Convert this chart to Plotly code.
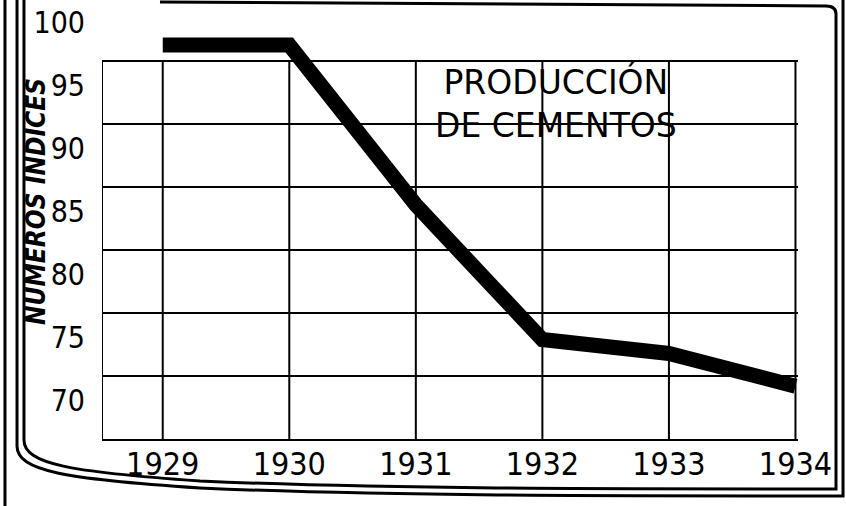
import plotly.graph_objects as go

# ---- data ----
years = [1929, 1930, 1931, 1932, 1933, 1934]
index_values = [101.3, 101.3, 88.6, 77.9, 76.8, 74.2]
y_ticks = [70, 75, 80, 85, 90, 95, 100]
y_tick_labels = ["70", "75", "80", "85", "90", "95", "100"]
x_tick_labels = ["1929", "1930", "1931", "1932", "1933", "1934"]
title_text = "PRODUCCIÓN<br>DE CEMENTOS"
y_title = "NUMEROS INDICES"

W, H = 846, 506
L, R, T, B = 102, 48, 30, 67
PW, PH = W - L - R, H - T - B
X_RANGE = [1928.52, 1934.02]
Y_RANGE = [70, 102.5]

def px(xp):
    return (xp - L) / PW

def py(yp):
    return (H - B - yp) / PH

NARROW = "DejaVu Sans Condensed, DejaVu Sans, sans-serif"

fig = go.Figure()
fig.add_trace(go.Scatter(
    x=years, y=index_values, mode="lines",
    line=dict(color="black", width=15),
    hoverinfo="skip", showlegend=False,
))

shapes = []
# vertical grid lines built from the year list, limited to the tick span
for yr in [X_RANGE[0]] + years:
    shapes.append(dict(type="line", xref="x", yref="y",
                       x0=yr, x1=yr, y0=min(y_ticks), y1=max(y_ticks),
                       line=dict(color="black", width=2), layer="above"))

def path(points):
    s = "M {:.4f},{:.4f}".format(px(points[0][0]), py(points[0][1]))
    for seg in points[1:]:
        if len(seg) == 2:
            s += " L {:.4f},{:.4f}".format(px(seg[0]), py(seg[1]))
        else:
            s += " C " + " ".join("{:.4f},{:.4f}".format(px(seg[i]), py(seg[i + 1]))
                                  for i in range(0, 6, 2))
    return s

frame_style = dict(type="path", xref="paper", yref="paper",
                   line=dict(color="black", width=3), layer="above")
# outer straight left edge
shapes.append(dict(frame_style, path=path([(5, 0), (5, 506)])))
# inner double frame with curved bottom
shapes.append(dict(frame_style, path=path([
    (24, 0), (24, 440),
    (24, 464, 70, 472, 200, 481),
    (380, 489, 600, 489, 836, 489),
    (836, 14),
    (836, 8, 832, 6, 826, 6),
    (160, 2)])))
shapes.append(dict(frame_style, path=path([
    (17, 0), (17, 446),
    (17, 471, 64, 479, 200, 488),
    (380, 496, 600, 496, 843, 496),
    (843, 0)])))

fig.update_layout(
    width=W, height=H,
    margin=dict(l=L, r=R, t=T, b=B, autoexpand=False),
    paper_bgcolor="white", plot_bgcolor="white",
    shapes=shapes,
    xaxis=dict(range=X_RANGE, tickvals=years, ticktext=x_tick_labels,
               showgrid=False, zeroline=False, showline=True,
               linecolor="black", linewidth=2, ticks="", automargin=False,
               tickfont=dict(family=NARROW, size=32, color="black"),
               ticklabelstandoff=-4),
    yaxis=dict(range=Y_RANGE, tickvals=y_ticks, ticktext=y_tick_labels,
               showgrid=True, gridcolor="black", gridwidth=2, automargin=False,
               zeroline=False, showline=False, ticks="",
               tickfont=dict(family=NARROW, size=30, color="black"),
               ticklabelshift=-39, ticklabelstandoff=16),
    annotations=[
        dict(text=title_text, xref="paper", yref="paper",
             x=px(556), y=py(103), xanchor="center", yanchor="middle",
             showarrow=False, align="center",
             font=dict(family="DejaVu Sans", size=33, color="black")),
        dict(text="<b><i>" + y_title + "</i></b>", xref="paper", yref="paper",
             x=px(36), y=py(202), xanchor="center", yanchor="middle",
             textangle=-90, showarrow=False,
             font=dict(family="DejaVu Sans Condensed, DejaVu Sans", size=26, color="black")),
    ],
)

fig.write_html("out.html", config={"displayModeBar": False},
               post_script="document.body.style.margin='0';document.body.style.overflow='hidden';")
